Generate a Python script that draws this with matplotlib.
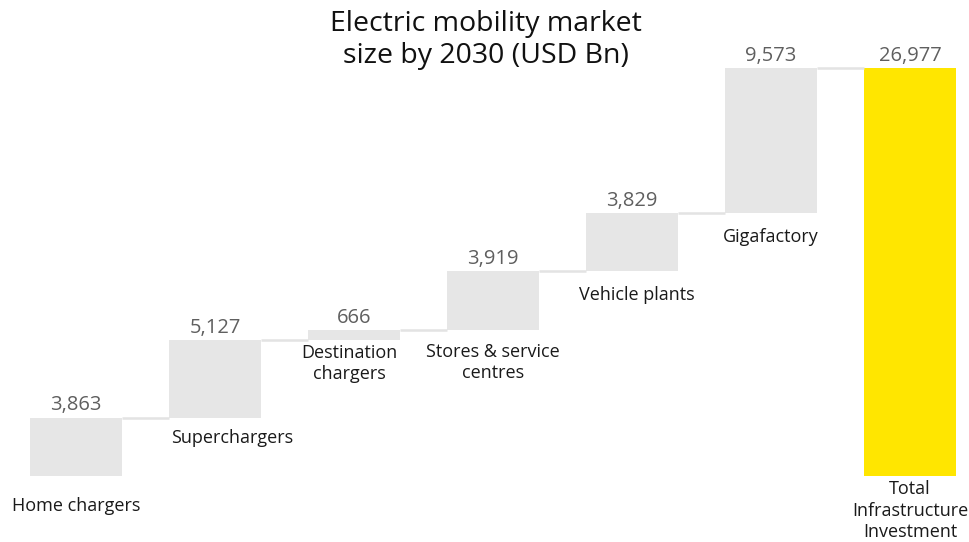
import numpy as np
import matplotlib.pyplot as plt

plt.rcParams['font.family'] = ['Open Sans', 'DejaVu Sans']

# Data
categories = ["Home chargers", "Superchargers", "Destination\nchargers",
              "Stores & service\ncentres", "Vehicle plants", "Gigafactory",
              "Total\nInfrastructure\nInvestment"]
steps = [3863, 5127, 666, 3919, 3829, 9573]
total = 26977

grey = "#e6e6e6"
yellow = "#ffe600"

tops = np.cumsum(steps)
bottoms = tops - np.array(steps)
heights = list(steps) + [total]
bases = list(bottoms) + [0]
colors = [grey] * len(steps) + [yellow]
x = np.arange(len(categories))

fig = plt.figure(figsize=(9.7, 5.42), dpi=100)
ax = fig.add_axes([0, 0, 1, 1])
ax.set_xlim(-0.547, 6.432)
ax.set_ylim(-4364, 31473)
ax.axis("off")

w = 0.662
ax.bar(x, heights, bottom=bases, width=w, color=colors, linewidth=0)

# connector lines between bars
levels = list(tops)
for i in range(len(categories) - 1):
    ax.plot([x[i] + w / 2, x[i + 1] - w / 2], [levels[i], levels[i]],
            color="#e3e3e3", lw=1.8, solid_capstyle="butt")

# value labels above bars
for i in range(len(categories)):
    ax.annotate(f"{heights[i]:,}", (x[i], bases[i] + heights[i]),
                xytext=(0, 1.5), textcoords="offset points",
                ha="center", va="bottom", fontsize=14.5, color="#5f5f5f")

# category labels below the bar bottoms (offsets in points)
label_dx = [0, 12, -3.6, 0, 3.6, 0, 0]
label_dy = [-15, -7.9, -2.8, -9.3, -10.8, -10.8, -3]
for i in range(len(categories)):
    ax.annotate(categories[i], (x[i], bases[i]),
                xytext=(label_dx[i], label_dy[i]), textcoords="offset points",
                ha="center", va="top", fontsize=13, color="#1a1a1a",
                linespacing=1.25)

fig.text(0.501, 0.981, "Electric mobility market\nsize by 2030 (USD Bn)",
         ha="center", va="top", fontsize=20.5, color="#111111", linespacing=1.18)

fig.savefig("out.png", dpi=100)
plt.close(fig)
